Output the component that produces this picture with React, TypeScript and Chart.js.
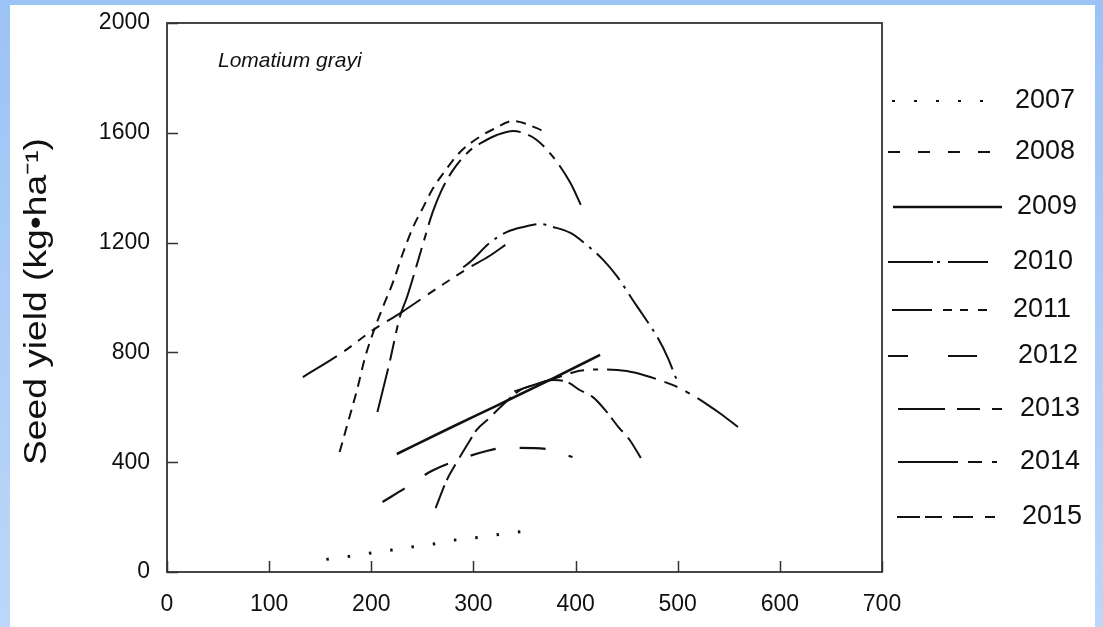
import { useEffect, useRef } from 'react';
import { Chart, registerables } from 'chart.js';

Chart.register(...registerables);

// ---- data ----
const years = ['2007', '2008', '2009', '2010', '2011', '2012', '2013', '2014', '2015'];

const x2007 = [156, 177, 198, 220, 241, 261, 283, 304, 325, 346];
const y2007 = [46, 56, 68, 80, 92, 102, 117, 126, 137, 147];

const x2008 = [169, 177, 186, 194, 202, 211, 221, 231, 241, 251, 260, 272, 287, 306, 319, 339, 362, 370];
const y2008 = [437, 543, 663, 783, 874, 962, 1053, 1162, 1257, 1330, 1395, 1460, 1530, 1585, 1612, 1643, 1617, 1603];

const x2009 = [225, 275, 325, 375, 424];
const y2009 = [430, 521, 610, 700, 791];

const x2010 = [290, 297, 316, 333, 349, 365, 378, 395, 411, 427, 441, 456, 466, 480, 490, 499];
const y2010 = [1110, 1130, 1199, 1239, 1257, 1268, 1257, 1235, 1191, 1137, 1075, 991, 936, 856, 783, 700];

const x2011 = [133, 171, 202, 230, 265, 295, 316, 334];
const y2011 = [710, 798, 882, 947, 1035, 1107, 1152, 1199];

const x2012 = [211, 235, 259, 285, 313, 331, 343, 372, 397];
const y2012 = [255, 310, 368, 408, 441, 452, 452, 448, 419];

const x2013 = [206, 218, 228, 235, 251, 260, 269, 280, 297, 309, 323, 339, 349, 362, 378, 395, 406];
const y2013 = [583, 765, 930, 1002, 1200, 1310, 1392, 1464, 1537, 1566, 1592, 1607, 1599, 1574, 1512, 1417, 1330];

const x2014 = [340, 362, 385, 404, 427, 450, 468, 486, 502, 515, 529, 543, 559];
const y2014 = [658, 685, 712, 733, 738, 732, 716, 694, 670, 643, 610, 574, 528];

const x2015 = [263, 274, 285, 295, 303, 316, 324, 346, 362, 378, 392, 404, 417, 429, 442, 453, 465];
const y2015 = [233, 335, 408, 470, 517, 562, 592, 663, 684, 699, 692, 663, 637, 590, 528, 481, 408];

const xTicks = [0, 100, 200, 300, 400, 500, 600, 700];
const yTicks = [0, 400, 800, 1200, 1600, 2000];

const yTitle = 'Seed yield (kg•ha⁻¹)';
const speciesLabel = 'Lomatium grayi';

const seriesX = [x2007, x2008, x2009, x2010, x2011, x2012, x2013, x2014, x2015];
const seriesY = [y2007, y2008, y2009, y2010, y2011, y2012, y2013, y2014, y2015];

// ---- styles ----
const FONT = '"Liberation Sans", Arial, sans-serif';
const INK = '#111';
const chartDash = [
  [2.5, 19],
  [10, 7],
  [],
  [35, 7, 3, 7],
  [40, 9, 9, 8, 9, 8, 9, 9],
  [26, 24],
  [45, 8, 20, 8, 8, 8],
  [50, 9, 14, 9, 5, 9],
  [24, 6, 18, 8],
];
const chartWidth = [3, 2, 2.6, 2, 2, 2.2, 2, 2, 2];

const legendY = [101, 152, 207, 262, 310, 356, 409, 462, 517];
const legendX0 = [892, 888, 893, 888, 892, 888, 898, 898, 897];
const legendX1 = [984, 990, 1002, 988, 987, 977, 1002, 997, 995];
const legendDash = [
  [3, 19],
  [12, 18],
  [],
  [45, 4, 3, 8, 40, 100],
  [40, 11, 9, 8, 8, 10, 9, 100],
  [20, 40, 29, 100],
  [47, 12, 23, 12, 10, 100],
  [60, 10, 14, 10, 5, 100],
  [23, 5, 17, 11, 20, 12, 10, 100],
];
const legendTextX = [1015, 1015, 1017, 1013, 1013, 1018, 1020, 1020, 1022];

const extrasPlugin = {
  id: 'extras',
  afterDraw(chart: any) {
    const { ctx, chartArea, scales } = chart;
    const { left, top, right, bottom } = chartArea;
    ctx.save();
    // frame
    ctx.setLineDash([]);
    ctx.strokeStyle = '#333';
    ctx.lineWidth = 1.8;
    ctx.strokeRect(left, top, right - left, bottom - top);
    // inward tick marks
    ctx.lineWidth = 1.5;
    ctx.beginPath();
    xTicks.forEach((v) => {
      const px = Math.round(scales.x.getPixelForValue(v)) + 0.5;
      ctx.moveTo(px, bottom);
      ctx.lineTo(px, bottom - 11);
    });
    yTicks.forEach((v) => {
      const py = Math.round(scales.y.getPixelForValue(v)) + 0.5;
      ctx.moveTo(left, py);
      ctx.lineTo(left + 11, py);
    });
    ctx.stroke();
    // species label
    ctx.fillStyle = INK;
    ctx.font = 'italic 21px ' + FONT;
    ctx.textAlign = 'left';
    ctx.textBaseline = 'alphabetic';
    ctx.fillText(speciesLabel, 218, 67);
    // y-axis title (slightly stretched along its length like the reference)
    ctx.save();
    ctx.translate(37, (top + bottom) / 2 + 4);
    ctx.rotate(-Math.PI / 2);
    ctx.scale(1.2, 1);
    ctx.font = '31px ' + FONT;
    ctx.textAlign = 'center';
    ctx.textBaseline = 'middle';
    ctx.fillText(yTitle, 0, 0);
    ctx.restore();
    // legend
    ctx.font = '27px ' + FONT;
    ctx.textAlign = 'left';
    ctx.textBaseline = 'middle';
    years.forEach((label, i) => {
      ctx.beginPath();
      ctx.strokeStyle = INK;
      ctx.lineWidth = i === 2 ? 2.6 : 2.2;
      ctx.lineCap = 'butt';
      ctx.setLineDash(legendDash[i]);
      ctx.moveTo(legendX0[i], legendY[i]);
      ctx.lineTo(legendX1[i], legendY[i]);
      ctx.stroke();
      ctx.setLineDash([]);
      ctx.fillText(label, legendTextX[i], legendY[i]);
    });
    ctx.restore();
  },
};

export default function App() {
  const ref = useRef<HTMLCanvasElement | null>(null);

  useEffect(() => {
    if (!ref.current) return;
    const datasets = years.map((label, i) => ({
      label,
      data: seriesX[i].map((xv, j) => ({ x: xv, y: seriesY[i][j] })),
      borderColor: INK,
      backgroundColor: INK,
      borderWidth: chartWidth[i],
      borderDash: chartDash[i],
      pointRadius: 0,
      tension: 0.4,
      cubicInterpolationMode: 'monotone' as const,
      fill: false,
    }));
    const chart = new Chart(ref.current, {
      type: 'line',
      data: { datasets },
      options: {
        animation: false,
        responsive: false,
        layout: { autoPadding: false, padding: { left: 0, top: 23, right: 221, bottom: 0 } },
        plugins: { legend: { display: false }, tooltip: { enabled: false } },
        scales: {
          x: {
            type: 'linear',
            min: 0,
            max: 700,
            grid: { display: false, drawTicks: false },
            border: { display: false },
            ticks: {
              stepSize: 100,
              color: INK,
              padding: 19,
              font: { family: FONT, size: 23 },
              callback: (v: any) => String(v),
            },
            afterFit: (s: any) => {
              s.height = 55;
              s.paddingLeft = 0;
              s.paddingRight = 0;
            },
          },
          y: {
            type: 'linear',
            min: 0,
            max: 2000,
            grid: { display: false, drawTicks: false },
            border: { display: false },
            ticks: {
              stepSize: 400,
              color: INK,
              padding: 17,
              font: { family: FONT, size: 23 },
              callback: (v: any) => String(v),
            },
            afterFit: (s: any) => {
              s.width = 167;
              s.paddingTop = 0;
              s.paddingBottom = 0;
            },
          },
        },
      },
      plugins: [extrasPlugin],
    });
    return () => chart.destroy();
  }, []);

  return (
    <div
      style={{
        position: 'fixed',
        left: 0,
        top: 0,
        width: 1103,
        height: 627,
        background: 'linear-gradient(#9cc3f6, #bcd7f7)',
      }}
    >
      <div style={{ position: 'absolute', left: 10, top: 5, width: 1085, height: 622, background: '#fff' }} />
      <canvas
        ref={ref}
        width={1103}
        height={627}
        style={{ position: 'absolute', left: 0, top: 0, width: 1103, height: 627 }}
      />
    </div>
  );
}
